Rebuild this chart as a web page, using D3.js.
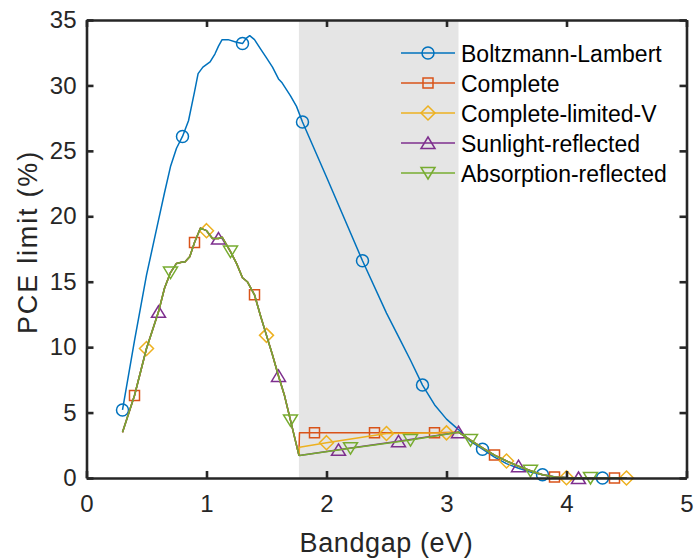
<!DOCTYPE html>
<html>
<head>
<meta charset="utf-8">
<script src="https://cdn.jsdelivr.net/npm/d3@7"></script>
<style>
    body { margin: 0; background: #fff; }
    text { font-family: "Liberation Sans", Arial, Helvetica, sans-serif; }
</style>
</head>
<body>
<div id="chart"></div>
<script>

// ---- data ----
const xTicks = [0, 1, 2, 3, 4, 5];
const yTicks = [0, 5, 10, 15, 20, 25, 30, 35];
const shadeRange = [1.77, 3.1];

const seriesNames = ["Boltzmann-Lambert", "Complete", "Complete-limited-V", "Sunlight-reflected", "Absorption-reflected"];
const seriesColors = ["#0072BD", "#D95319", "#EDB120", "#7E2F8E", "#77AC30"];
const seriesMarkers = ["circle", "square", "diamond", "triangle", "triangleDown"];

const blueX = [0.3, 0.4, 0.5, 0.6, 0.65, 0.7, 0.75, 0.8, 0.85, 0.9, 0.93, 0.97, 1.03, 1.07, 1.1, 1.13, 1.18, 1.25, 1.3, 1.33, 1.36, 1.4, 1.45, 1.5, 1.55, 1.6, 1.63, 1.7, 1.75, 1.8, 2.0, 2.3, 2.5, 2.6, 2.7, 2.8, 2.9, 3.0, 3.1, 3.2, 3.3, 3.4, 3.5, 3.6, 3.7, 3.8, 3.9, 4.0, 4.1, 4.3, 4.5];
const blueY = [5.2, 10.5, 15.5, 19.7, 21.8, 23.8, 25.2, 26.1, 27.3, 29.5, 30.9, 31.4, 31.8, 32.4, 33.0, 33.5, 33.5, 33.3, 33.2, 33.6, 33.8, 33.5, 32.8, 32.1, 31.4, 30.5, 30.2, 29.2, 28.4, 27.2, 23.0, 16.6, 12.6, 10.8, 9.0, 7.1, 5.6, 4.5, 3.7, 2.8, 2.2, 1.6, 1.1, 0.75, 0.45, 0.25, 0.1, 0.03, 0, 0, 0];
const blueMarks = [0.3, 0.8, 1.3, 1.8, 2.3, 2.8, 3.3, 3.8, 4.3];

// shared rising part of the four detailed models
const riseX = [0.3, 0.4, 0.5, 0.6, 0.65, 0.7, 0.75, 0.8, 0.82, 0.86, 0.9, 0.95, 1.0, 1.05, 1.1, 1.13, 1.2, 1.25, 1.3, 1.34, 1.4, 1.45, 1.5, 1.55, 1.6, 1.65, 1.7, 1.77];
const riseY = [3.5, 6.3, 9.9, 12.7, 14.5, 15.7, 16.4, 16.5, 16.5, 16.9, 18.0, 19.1, 18.9, 18.3, 18.3, 18.4, 17.3, 16.4, 15.3, 15.0, 14.0, 12.4, 10.9, 9.4, 7.8, 6.3, 4.4, 1.75];

// shared falling tail above 3.1 eV
const fallX = [3.2, 3.3, 3.4, 3.5, 3.6, 3.7, 3.8, 3.9, 4.0, 4.1, 4.2, 4.3, 4.4, 4.5];
const fallY = [2.9, 2.3, 1.75, 1.3, 0.9, 0.55, 0.25, 0.08, 0.02, 0, 0, 0, 0, 0];

// middle parts inside the shaded band
const completeMidX = [1.775, 1.9, 2.4, 2.9, 3.1];
const completeMidY = [3.45, 3.45, 3.45, 3.45, 3.5];
const limitedMidX = [1.775, 2.0, 2.5, 3.0, 3.1];
const limitedMidY = [2.35, 2.7, 3.4, 3.45, 3.5];
const sunlightMidX = [1.775, 2.1, 2.6, 3.1];
const sunlightMidY = [1.72, 2.15, 2.8, 3.5];
const absorbMidX = [1.775, 2.2, 2.7, 3.1];
const absorbMidY = [1.72, 2.28, 2.9, 3.5];

const completeMarks = [0.4, 0.9, 1.4, 1.9, 2.4, 2.9, 3.4, 3.9, 4.4];
const limitedMarks = [0.5, 1.0, 1.5, 2.0, 2.5, 3.0, 3.5, 4.0, 4.5];
const sunlightMarks = [0.6, 1.1, 1.6, 2.1, 2.6, 3.1, 3.6, 4.1];
const absorbMarks = [0.7, 1.2, 1.7, 2.2, 2.7, 3.2, 3.7, 4.2];


class PceChart {

    constructor(parentElement) {
        this.parentElement = parentElement;
        this.initVis();
    }

    initVis() {
        let vis = this;

        vis.margin = { top: 20, right: 7.5, bottom: 80, left: 86.5 };
        vis.width = 694 - vis.margin.left - vis.margin.right;
        vis.height = 558 - vis.margin.top - vis.margin.bottom;

        vis.svg = d3.select("#" + vis.parentElement).append("svg")
            .attr("width", 694)
            .attr("height", 558)
            .append("g")
            .attr("transform", `translate(${vis.margin.left}, ${vis.margin.top})`);

        vis.x = d3.scaleLinear().domain([0, 5]).range([0, vis.width]);
        vis.y = d3.scaleLinear().domain([0, 35]).range([vis.height, 0]);

        vis.wrangleData();
    }

    wrangleData() {
        let vis = this;
        const zip = (xs, ys) => xs.map((d, i) => ({ x: d, y: ys[i] }));

        let lines = [
            zip(blueX, blueY),
            zip(riseX.concat(completeMidX, fallX), riseY.concat(completeMidY, fallY)),
            zip(riseX.concat(limitedMidX, fallX), riseY.concat(limitedMidY, fallY)),
            zip(riseX.concat(sunlightMidX, fallX), riseY.concat(sunlightMidY, fallY)),
            zip(riseX.concat(absorbMidX, fallX), riseY.concat(absorbMidY, fallY))
        ];
        let marks = [blueMarks, completeMarks, limitedMarks, sunlightMarks, absorbMarks];

        vis.displayData = seriesNames.map((name, i) => ({
            name: name,
            color: seriesColors[i],
            marker: seriesMarkers[i],
            values: lines[i],
            // markers sit on listed points of the line
            marks: lines[i].filter(p => marks[i].some(m => Math.abs(m - p.x) < 1e-9))
        }));

        vis.updateVis();
    }

    markerPath(type) {
        switch (type) {
            case "circle": return "M6,0A6,6 0 1,1 -6,0A6,6 0 1,1 6,0Z";
            case "square": return "M-5,-5H5V5H-5Z";
            case "diamond": return "M0,-7L7,0L0,7L-7,0Z";
            case "triangle": return "M0,-6L7,5.5L-7,5.5Z";
            case "triangleDown": return "M0,6L7,-5.5L-7,-5.5Z";
        }
    }

    updateVis() {
        let vis = this;

        // shaded band
        vis.svg.append("rect")
            .attr("x", vis.x(shadeRange[0]))
            .attr("y", 0)
            .attr("width", vis.x(shadeRange[1]) - vis.x(shadeRange[0]))
            .attr("height", vis.height)
            .attr("fill", "#e5e5e5");

        let line = d3.line()
            .x(d => vis.x(d.x))
            .y(d => vis.y(d.y));

        vis.displayData.forEach(s => {
            let g = vis.svg.append("g").attr("class", "series");
            g.append("path")
                .datum(s.values)
                .attr("d", line)
                .attr("fill", "none")
                .attr("stroke", s.color)
                .attr("stroke-width", 1.5)
                .attr("stroke-linejoin", "round");

            g.selectAll(".mark")
                .data(s.marks)
                .join("path")
                .attr("class", "mark")
                .attr("transform", d => `translate(${vis.x(d.x)},${vis.y(d.y)})`)
                .attr("d", vis.markerPath(s.marker))
                .attr("fill", "none")
                .attr("stroke", s.color)
                .attr("stroke-width", 1.5);
        });

        // axes (box with inward ticks)
        const axisColor = "#262626";
        let xAxis = d3.axisBottom(vis.x).tickValues(xTicks).tickFormat(d3.format("d"))
            .tickSize(-7).tickPadding(17).tickSizeOuter(0);
        let yAxis = d3.axisLeft(vis.y).tickValues(yTicks).tickFormat(d3.format("d"))
            .tickSize(-7).tickPadding(10).tickSizeOuter(0);
        let xTop = d3.axisTop(vis.x).tickValues(xTicks).tickSize(-7).tickFormat("").tickSizeOuter(0);
        let yRight = d3.axisRight(vis.y).tickValues(yTicks).tickSize(-7).tickFormat("").tickSizeOuter(0);

        let axes = [
            vis.svg.append("g").attr("transform", `translate(0,${vis.height})`).call(xAxis),
            vis.svg.append("g").call(yAxis),
            vis.svg.append("g").call(xTop),
            vis.svg.append("g").attr("transform", `translate(${vis.width},0)`).call(yRight)
        ];
        axes.forEach(a => {
            a.selectAll("path, line").attr("stroke", axisColor).attr("stroke-width", 2.6);
            a.selectAll("text").attr("fill", axisColor).attr("font-size", 24)
                .attr("font-family", "Liberation Sans, Arial, sans-serif");
        });

        // axis labels
        vis.svg.append("text")
            .attr("x", vis.width / 2)
            .attr("y", vis.height + 74)
            .attr("text-anchor", "middle")
            .attr("font-size", 27)
            .attr("fill", axisColor)
            .attr("letter-spacing", 0.6)
            .text("Bandgap (eV)");

        vis.svg.append("text")
            .attr("transform", `translate(${-50},${vis.height / 2 - 7}) rotate(-90)`)
            .attr("text-anchor", "middle")
            .attr("font-size", 27)
            .attr("fill", axisColor)
            .attr("letter-spacing", 1.8)
            .text("PCE limit (%)");

        // legend
        let legend = vis.svg.append("g")
            .attr("transform", `translate(${401 - vis.margin.left},${53 - vis.margin.top})`);
        vis.displayData.forEach((s, i) => {
            let row = legend.append("g").attr("transform", `translate(0,${i * 30})`);
            row.append("line")
                .attr("x1", 0).attr("x2", 54)
                .attr("stroke", s.color).attr("stroke-width", 1.5);
            row.append("path")
                .attr("transform", "translate(27,0)")
                .attr("d", vis.markerPath(s.marker))
                .attr("fill", "none")
                .attr("stroke", s.color)
                .attr("stroke-width", 1.5);
            row.append("text")
                .attr("x", 60)
                .attr("y", 8.5)
                .attr("font-size", 23)
                .attr("fill", "#000")
                .text(s.name);
        });
    }
}

new PceChart("chart");

</script>
</body>
</html>
